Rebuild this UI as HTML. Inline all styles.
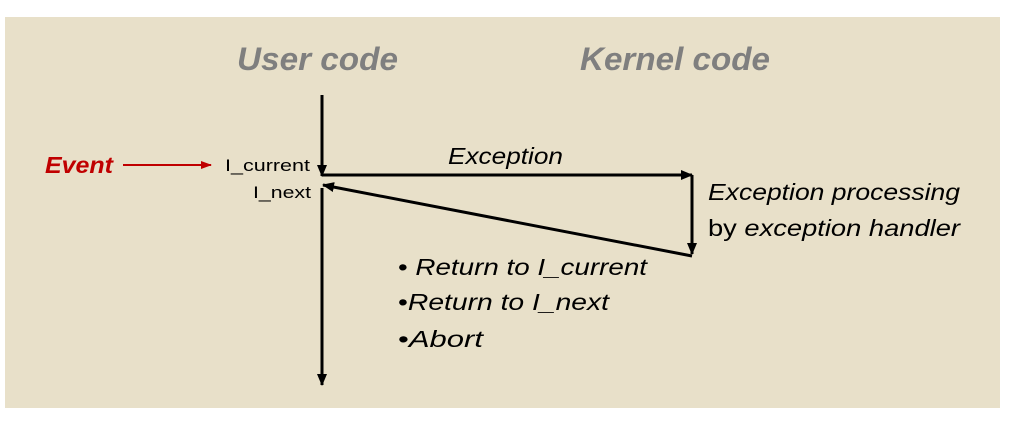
<!DOCTYPE html>
<html><head><style>
body{margin:0;width:1011px;height:436px;background:#fff;overflow:hidden;font-family:"Liberation Sans",sans-serif;}
svg{position:absolute;left:0;top:0}
</style></head><body>
<svg width="1011" height="436" viewBox="0 0 1011 436">
<defs>
<marker id="a" markerWidth="12" markerHeight="12" refX="11" refY="5" orient="auto" markerUnits="userSpaceOnUse"><path d="M0,0 L12,5 L0,10 z" fill="#000"/></marker>
<marker id="r" markerWidth="12" markerHeight="10" refX="10" refY="4" orient="auto" markerUnits="userSpaceOnUse"><path d="M0,0 L11,4 L0,8 z" fill="#c00000"/></marker>
</defs>
<rect x="5" y="17" width="995" height="391" fill="#e8e0c9"/>
<g font-family="Liberation Sans, sans-serif" font-style="italic" font-weight="bold" fill="#7f7f7f" font-size="32">
<text x="237" y="70" textLength="161" lengthAdjust="spacingAndGlyphs">User code</text>
<text x="580" y="70" textLength="190" lengthAdjust="spacingAndGlyphs">Kernel code</text>
</g>
<text x="45" y="173" font-size="23" font-style="italic" font-weight="bold" fill="#c00000" textLength="68" lengthAdjust="spacingAndGlyphs">Event</text>
<line x1="123" y1="165" x2="211" y2="165" stroke="#c00000" stroke-width="2" marker-end="url(#r)"/>
<g font-size="17" fill="#000">
<text x="225" y="171" textLength="85" lengthAdjust="spacingAndGlyphs">I_current</text>
<text x="253" y="198" textLength="58" lengthAdjust="spacingAndGlyphs">I_next</text>
</g>
<g stroke="#000" stroke-width="3" fill="none">
<line x1="322" y1="95" x2="322" y2="176" marker-end="url(#a)"/>
<line x1="322" y1="188" x2="322" y2="385" marker-end="url(#a)"/>
<line x1="322" y1="175" x2="692" y2="175" marker-end="url(#a)"/>
<line x1="692" y1="175" x2="692" y2="254" marker-end="url(#a)"/>
<line x1="692" y1="256" x2="323" y2="185" marker-end="url(#a)"/>
</g>
<g font-size="23" fill="#000">
<text x="448" y="164" font-style="italic" textLength="115" lengthAdjust="spacingAndGlyphs">Exception</text>
<text x="708" y="200" font-style="italic" textLength="252" lengthAdjust="spacingAndGlyphs">Exception processing</text>
<text x="708" y="236" textLength="252" lengthAdjust="spacingAndGlyphs">by <tspan font-style="italic">exception handler</tspan></text>
<text x="398" y="275" textLength="249" lengthAdjust="spacingAndGlyphs">• <tspan font-style="italic">Return to I_current</tspan></text>
<text x="398" y="310" textLength="211" lengthAdjust="spacingAndGlyphs">•<tspan font-style="italic">Return to I_next</tspan></text>
<text x="398" y="347" textLength="85" lengthAdjust="spacingAndGlyphs">•<tspan font-style="italic">Abort</tspan></text>
</g>
</svg>
</body></html>
